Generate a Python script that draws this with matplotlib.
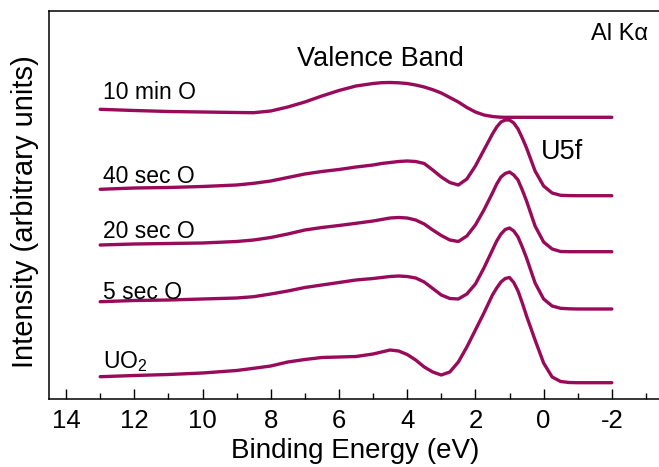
import numpy as np
import matplotlib
matplotlib.use("Agg")
import matplotlib.pyplot as plt
from matplotlib.ticker import MultipleLocator

plt.rcParams['font.family'] = ['Liberation Sans', 'DejaVu Sans']
plt.rcParams['mathtext.fontset'] = 'custom'
plt.rcParams['mathtext.rm'] = 'Liberation Sans'
plt.rcParams['mathtext.it'] = 'Liberation Sans:italic'
plt.rcParams['axes.unicode_minus'] = False

# Binding energy grid (eV)
energy = [13, 12, 11, 10, 9, 8.5, 8, 7.5, 7, 6.5, 6, 5.5, 5, 4.75, 4.5, 4.25,
          4, 3.75, 3.5, 3.25, 3, 2.75, 2.5, 2.25, 2, 1.75, 1.5, 1.375, 1.25,
          1.125, 1.0, 0.875, 0.75, 0.625, 0.5, 0.25, 0, -0.25, -0.5, -0.75,
          -1, -1.5, -2]

# Intensities (arbitrary units, already stacked with offsets)
uo2 = [22.3, 23.5, 24.5, 26, 28.5, 30.7, 33, 37, 39.5, 41.5, 42, 42.5, 45, 47,
       49, 48, 44.5, 39, 32, 27, 24, 27, 37, 52, 69, 86, 104, 111, 117, 120.5,
       121.5, 116.5, 108, 96, 83, 59, 36, 22, 17.5, 16.5, 16.3, 16.3, 16.3]
sec5 = [97.3, 98.5, 99, 100, 101, 102.3, 105, 108, 111.5, 114, 116.5, 119,
        120.5, 121.5, 122.5, 123, 122.5, 121, 117, 110.5, 104, 100.5, 100,
        105, 115, 131, 149, 158, 165, 169.5, 171, 168, 162, 152, 141, 116,
        100, 93, 90.7, 90.2, 90, 90, 90]
sec20 = [154, 155, 155.5, 156, 157.5, 159, 161.5, 165, 169, 171.5, 173.5,
         175.7, 178, 179.5, 181, 181.5, 181, 179, 175, 169, 163.5, 159, 157.5,
         163, 174, 189, 206, 215, 222, 225.5, 227, 224, 219, 209, 198, 173,
         157, 150, 147.5, 147.3, 147.3, 147.3, 147.3]
sec40 = [209.7, 211, 211.5, 212.5, 214, 215.7, 218, 221.5, 225, 227.5, 229.5,
         232, 234, 235.5, 236.5, 237.5, 238, 237.5, 235.5, 229, 222, 216.5,
         214, 220, 233, 249, 265, 272, 277, 279, 279, 276, 270, 261, 251, 228,
         213, 206, 203.7, 203.4, 203.3, 203.3, 203.3]
min10 = [289.7, 288.5, 287.5, 287, 286.5, 286.3, 288, 292, 297, 303, 308.5,
         313, 315.5, 316.3, 316.5, 316.2, 315.5, 314, 312, 309.3, 306, 301.5,
         297, 291.5, 287, 284, 282.5, 282.1, 281.8, 281.7, 281.7, 281.7,
         281.7, 281.7, 281.7, 281.7, 281.7, 281.7, 281.7, 281.7, 281.7,
         281.7, 281.7]

series = [uo2, sec5, sec20, sec40, min10]
labels = ["UO$_2$", "5 sec O", "20 sec O", "40 sec O", "10 min O"]
label_y = [30.7, 99.7, 160.7, 216, 300]

color = "#980a5a"

fig = plt.figure(figsize=(6.59, 4.67), dpi=100)
ax = fig.add_axes([49 / 659, 68 / 467, 614 / 659, 388 / 467])

for s in series:
    ax.plot(energy, s, color=color, lw=2.4, solid_capstyle='round',
            solid_joinstyle='round')

for lab, ly in zip(labels, label_y):
    ax.text(12.92, ly, lab, fontsize=16.5, ha='left', va='baseline')

ax.text(4.79, 333, "Valence Band", fontsize=19.5, ha='center', va='baseline')
ax.text(0.08, 240, "U5f", fontsize=19.5, ha='left', va='baseline')
ax.text(-3.07, 359, "Al K\u03b1", fontsize=17, ha='right', va='baseline')

ax.set_xlim(14.5, -3.5)
ax.set_ylim(0, 388)
ax.xaxis.set_major_locator(MultipleLocator(2))
ax.xaxis.set_minor_locator(MultipleLocator(1))
ax.tick_params(axis='x', which='major', direction='in', length=7, width=1,
               labelsize=18.5, pad=7)
ax.tick_params(axis='x', which='minor', direction='in', length=4, width=1)
ax.set_yticks([])
for sp in ax.spines.values():
    sp.set_linewidth(1.1)

fig.text(355 / 659, 1 - 458 / 467, "Binding Energy (eV)", fontsize=20,
         ha='center', va='baseline')
fig.text(25 / 659, 1 - 212 / 467, "Intensity (arbitrary units)", fontsize=21,
         rotation=90, ha='center', va='center')

fig.savefig("out.png", dpi=100)
